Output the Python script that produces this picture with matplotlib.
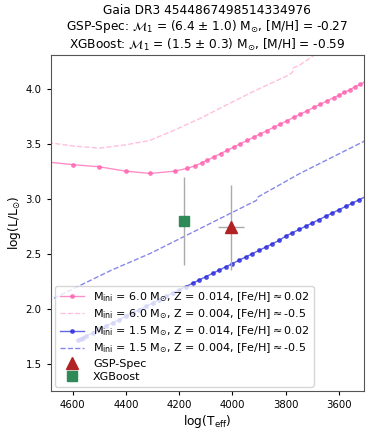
import matplotlib
matplotlib.use('Agg')
import matplotlib.pyplot as plt

# 6.0 Msun, Z=0.014 track (solid, with model points)
t6_sol = [4720, 4600, 4499, 4400, 4310, 4217, 4172, 4139, 4116, 4095,
          4070, 4045, 4020, 3995, 3970, 3945, 3920, 3895, 3870, 3845,
          3820, 3795, 3770, 3745, 3720, 3695, 3670, 3645, 3620, 3600,
          3580, 3560, 3540, 3520, 3500]
l6_sol = [3.34, 3.31, 3.29, 3.25, 3.23, 3.25, 3.275, 3.30, 3.326, 3.35,
          3.38, 3.41, 3.44, 3.47, 3.50, 3.53, 3.56, 3.59, 3.62, 3.65,
          3.68, 3.71, 3.74, 3.77, 3.80, 3.83, 3.86, 3.89, 3.92, 3.94,
          3.97, 3.99, 4.02, 4.04, 4.07]

# 6.0 Msun, Z=0.004 track (dashed)
t6_low = [4720, 4600, 4500, 4400, 4310, 4217, 4122, 3935, 3785, 3775, 3772, 3745, 3691, 3650]
l6_low = [3.52, 3.48, 3.46, 3.49, 3.53, 3.625, 3.73, 3.96, 4.13, 4.15, 4.19, 4.22, 4.31, 4.37]

# 1.5 Msun, Z=0.014 track (solid, with model points)
t15_sol = [4580, 4570, 4560, 4550, 4525, 4500, 4475, 4450, 4425, 4400,
           4375, 4350, 4325, 4300, 4275, 4250, 4225, 4200, 4175, 4150,
           4125, 4100, 4075, 4050, 4025, 4000, 3975, 3950, 3925, 3900,
           3875, 3850, 3825, 3800, 3775, 3750, 3725, 3700, 3675, 3650,
           3625, 3600, 3575, 3550, 3525, 3500]
l15_sol = [1.715, 1.725, 1.735, 1.75, 1.78, 1.81, 1.84, 1.87, 1.90, 1.93,
           1.96, 1.99, 2.02, 2.05, 2.08, 2.11, 2.14, 2.17, 2.20, 2.23,
           2.26, 2.29, 2.32, 2.35, 2.38, 2.41, 2.44, 2.47, 2.50, 2.53,
           2.56, 2.59, 2.62, 2.66, 2.69, 2.72, 2.75, 2.78, 2.81, 2.84,
           2.87, 2.90, 2.93, 2.96, 2.99, 3.02]

# 1.5 Msun, Z=0.004 track (dashed)
t15_low = [4720, 4682, 4454, 4310, 3910, 3904, 3747, 3500]
l15_low = [2.04, 2.08, 2.35, 2.50, 2.985, 3.016, 3.23, 3.53]

# star positions
gsp_teff, gsp_logl, gsp_terr, gsp_lerr = 4005, 2.74, 50, 0.385
xgb_teff, xgb_logl, xgb_terr, xgb_lerr = 4181, 2.80, 0, 0.40

pink = '#ff5fae'
blue = '#2525dd'

fig = plt.figure(figsize=(3.74, 4.36), dpi=100)
ax = fig.add_axes([0.1356, 0.1032, 0.8374, 0.7713])

ax.plot(t6_sol, l6_sol, '-', color=pink, alpha=0.7, lw=1, marker='o', ms=2.5,
        label=r'M$_{\rm ini}$ = 6.0 M$_{\odot}$, Z = 0.014, [Fe/H]$\approx$0.02')
ax.plot(t6_low, l6_low, '--', color=pink, alpha=0.4, lw=1,
        label=r'M$_{\rm ini}$ = 6.0 M$_{\odot}$, Z = 0.004, [Fe/H]$\approx$-0.5')
ax.plot(t15_sol, l15_sol, '-', color=blue, alpha=0.7, lw=1, marker='o', ms=2.5,
        label=r'M$_{\rm ini}$ = 1.5 M$_{\odot}$, Z = 0.014, [Fe/H]$\approx$0.02')
ax.plot(t15_low, l15_low, '--', color=blue, alpha=0.55, lw=1,
        label=r'M$_{\rm ini}$ = 1.5 M$_{\odot}$, Z = 0.004, [Fe/H]$\approx$-0.5')

ax.errorbar(gsp_teff, gsp_logl, xerr=gsp_terr, yerr=gsp_lerr, fmt='none', ecolor='#aaaaaa', elinewidth=1)
ax.errorbar(xgb_teff, xgb_logl, xerr=xgb_terr, yerr=xgb_lerr, fmt='none', ecolor='#aaaaaa', elinewidth=1)
ax.plot(gsp_teff, gsp_logl, '^', color='#b22222', ms=8, ls='none', label='GSP-Spec')
ax.plot(xgb_teff, xgb_logl, 's', color='#2e8b57', ms=7, ls='none', label='XGBoost')

ax.set_xlim(4682, 3507)
ax.set_ylim(1.25, 4.31)
ax.set_xticks([4600, 4400, 4200, 4000, 3800, 3600])
ax.set_yticks([1.5, 2.0, 2.5, 3.0, 3.5, 4.0])
ax.tick_params(labelsize=7.3, length=3)
ax.set_xlabel(r'log(T$_{\rm eff}$)', fontsize=8.8, labelpad=2)
ax.set_ylabel(r'log(L/L$_{\odot}$)', fontsize=8.8, labelpad=2)
for s in ax.spines.values():
    s.set_color('#555555')

ax.set_title('Gaia DR3 4544867498514334976\n'
             r'GSP-Spec: $\mathcal{M}_1$ = (6.4 $\pm$ 1.0) M$_{\odot}$, [M/H] = -0.27' '\n'
             r'XGBoost: $\mathcal{M}_1$ = (1.5 $\pm$ 0.3) M$_{\odot}$, [M/H] = -0.59',
             fontsize=8.7, pad=4, linespacing=1.15)

ax.legend(loc='lower left', fontsize=8, handlelength=2.2, labelspacing=0.3, borderaxespad=0.4)

fig.savefig('out.png', dpi=100)
